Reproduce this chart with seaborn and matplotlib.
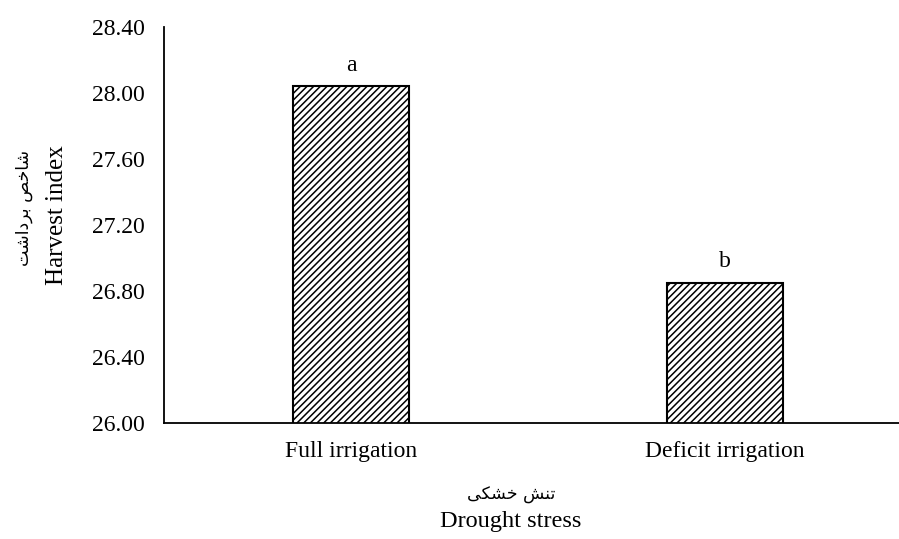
import matplotlib
matplotlib.use("Agg")
import matplotlib.pyplot as plt
import seaborn as sns
import pandas as pd

categories = ["Full irrigation", "Deficit irrigation"]
values = [28.04, 26.85]
letters = ["a", "b"]
y_ticks = [26.00, 26.40, 26.80, 27.20, 27.60, 28.00, 28.40]

ylabel_fa = "\uFE96\uFEB7\uFE8D\uFEA9\uFEAE\uFE91 \uFEBA\uFEA7\uFE8E\uFEB7"   # شاخص برداشت
xlabel_fa = "\uFBFD\uFB91\uFEB8\uFEA7 \uFEB6\uFEE8\uFE97"                     # تنش خشکی
ylabel_en = "Harvest index"
xlabel_en = "Drought stress"

sns.set_theme(style="white")
plt.rcParams['font.family'] = ['Liberation Serif', 'DejaVu Sans']
plt.rcParams['hatch.linewidth'] = 1.1
plt.rcParams['hatch.color'] = '#333333'

df = pd.DataFrame({"cat": categories, "val": values})

fig = plt.figure(figsize=(8.99, 5.39), dpi=100)
ax = fig.add_axes([164/899, 1-423/539, 1-164/899, (423-27)/539])

sns.barplot(data=df, x="cat", y="val", ax=ax, width=0.31, color="white",
            edgecolor="black", linewidth=1.5, order=categories)
for p in ax.patches:
    p.set_hatch("/////")
    p.set_facecolor("white")
    p.set_edgecolor("black")

ax.set_ylim(26.0, 28.4)
ax.set_xlim(-0.5, 1.465)
ax.set_yticks(y_ticks)
ax.set_yticklabels([f"{t:.2f}" for t in y_ticks])
ax.tick_params(axis='both', length=0, labelsize=17, colors='black')
ax.tick_params(axis='y', pad=14)
ax.tick_params(axis='x', pad=13)
ax.set_xlabel("")
ax.set_ylabel("")
for s in ["top", "right"]:
    ax.spines[s].set_visible(False)
for s in ["left", "bottom"]:
    ax.spines[s].set_color("black")
    ax.spines[s].set_linewidth(1.3)
ax.grid(False)

for i, (v, l) in enumerate(zip(values, letters)):
    ax.annotate(l, xy=(i, v), xytext=(0, 11), textcoords="offset points",
                ha="center", va="baseline", fontsize=17, color="black")

fig.text(24/899, 1-208/539, ylabel_fa, rotation=90, ha="center", va="center",
         fontsize=12.5, color="black", family=['DejaVu Sans'])
fig.text(57/899, 1-215/539, ylabel_en, rotation=90, ha="center", va="center",
         fontsize=18, color="black")
fig.text(511/899, 1-495/539, xlabel_fa, ha="center", va="center",
         fontsize=12.5, color="black", family=['DejaVu Sans'])
fig.text(511/899, 1-521/539, xlabel_en, ha="center", va="center",
         fontsize=17.5, color="black")

fig.savefig("out.png", dpi=100)
